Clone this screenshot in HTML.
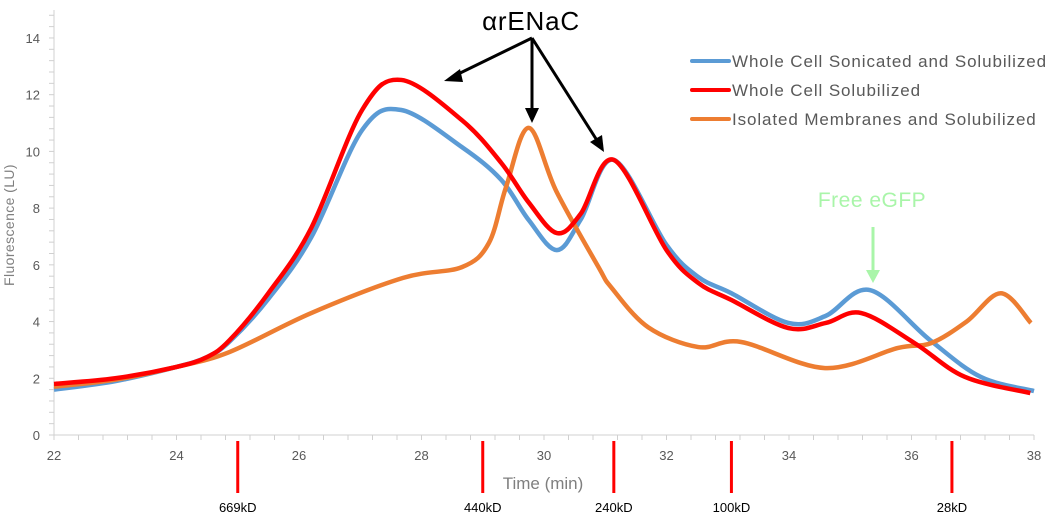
<!DOCTYPE html>
<html><head><meta charset="utf-8">
<style>
html,body{margin:0;padding:0;background:#fff;}
svg{display:block;font-family:"Liberation Sans",sans-serif;}
</style></head>
<body>
<svg id="chart" width="1050" height="514" viewBox="0 0 1050 514" xmlns="http://www.w3.org/2000/svg">
<g id="axes"></g>
<g id="series"></g>
<g id="markers"></g>
<text transform="translate(14,225) rotate(-90)" text-anchor="middle" font-size="14" fill="#7f7f7f" letter-spacing="0.4">Fluorescence (LU)</text>
<text x="543" y="489" text-anchor="middle" font-size="17" fill="#7f7f7f">Time (min)</text>
<g letter-spacing="0.9">
<g><line x1="692" y1="61" x2="729" y2="61" stroke="#5b9bd5" stroke-width="4" stroke-linecap="round"/><text x="732" y="67" font-size="17" fill="#595959">Whole Cell Sonicated and Solubilized</text></g>
<g><line x1="692" y1="90" x2="729" y2="90" stroke="#ff0000" stroke-width="4" stroke-linecap="round"/><text x="732" y="96" font-size="17" fill="#595959">Whole Cell Solubilized</text></g>
<g><line x1="692" y1="119" x2="729" y2="119" stroke="#ed7d31" stroke-width="4" stroke-linecap="round"/><text x="732" y="125" font-size="17" fill="#595959">Isolated Membranes and Solubilized</text></g>
</g>
<g>
<text x="531" y="30" text-anchor="middle" font-size="26" fill="#000" letter-spacing="0.8">αrENaC</text>
<g stroke="#000" stroke-width="3" fill="none">
<line x1="532" y1="38" x2="452" y2="77"/><line x1="532" y1="38" x2="532" y2="112"/><line x1="532" y1="38" x2="598" y2="142"/>
</g>
<polygon points="444,81 460,69 463,82" fill="#000"/>
<polygon points="532,123 525,108 539,108" fill="#000"/>
<polygon points="604,152 590,142 602,135" fill="#000"/>
</g>
<g>
<text x="872" y="207" text-anchor="middle" font-size="21" fill="#a9f5a9" letter-spacing="0.5">Free eGFP</text>
<line x1="873" y1="227" x2="873" y2="274" stroke="#a9f5a9" stroke-width="3"/>
<polygon points="873,283 866,270 880,270" fill="#a9f5a9"/>
</g>
</svg>
<script>
const xTicks=[22,24,26,28,30,32,34,36,38];
const yTicks=[0,2,4,6,8,10,12,14];
const sonX=[22,23,24,24.5,24.87,25.5,26.2,27.03,27.67,28.66,29.3,29.75,30.21,30.6,31.14,32.0,32.52,33.06,33.99,34.6,35.32,36.3,37.13,38];
const sonY=[1.6,1.9,2.4,2.75,3.3,4.8,6.97,10.75,11.46,10.15,9.0,7.58,6.52,7.6,9.7,6.7,5.57,5.0,3.95,4.2,5.11,3.35,2.05,1.55];
const solX=[22,23,24,24.5,24.87,25.5,26.2,27.03,27.67,28.66,29.3,29.75,30.21,30.6,31.14,32.0,32.52,33.06,33.99,34.6,35.18,36.05,36.87,37.94];
const solY=[1.8,2.0,2.4,2.75,3.35,5.0,7.3,11.46,12.52,11.1,9.6,8.2,7.12,7.8,9.7,6.52,5.36,4.76,3.77,3.95,4.3,3.24,2.05,1.48];
const memX=[22,23,24,24.87,26.2,27.7,28.66,29.1,29.38,29.75,30.2,30.89,31.1,31.7,32.52,33.22,34.59,35.78,36.32,36.9,37.46,37.95];
const memY=[1.7,1.95,2.4,2.93,4.3,5.54,5.92,6.77,8.74,10.83,8.6,5.92,5.2,3.8,3.1,3.28,2.36,3.07,3.24,4.0,5.0,3.95];
const markerX=[25,29,31.14,33.06,36.66];
const markerLabels=["669kD","440kD","240kD","100kD","28kD"];

const NS="http://www.w3.org/2000/svg";
const X0=54,X1=1034,Y0=435,YS=28.36;
function sx(v){return X0+(v-22)*(X1-X0)/16;}
function sy(v){return Y0-v*YS;}
function mk(tag,attrs,parent){const e=document.createElementNS(NS,tag);for(const k in attrs)e.setAttribute(k,attrs[k]);parent.appendChild(e);return e;}
const axes=document.getElementById('axes');
let yl=mk('line',{x1:X0,y1:Y0,x2:X0,y2:10,stroke:'#d0d0d0','stroke-width':1},axes);


let xl=mk('line',{x1:X0,y1:Y0,x2:X1,y2:Y0,stroke:'#d0d0d0','stroke-width':1},axes);


for(let v=0;v<=15.01;v+=0.4){mk('line',{x1:X0-5,y1:sy(v),x2:X0,y2:sy(v),stroke:'#d0d0d0'},axes);}
for(let v=22;v<=38.01;v+=0.4){mk('line',{x1:sx(v),y1:Y0,x2:sx(v),y2:Y0+5,stroke:'#d0d0d0'},axes);}
yTicks.forEach(v=>{
  const t=mk('text',{x:X0-14,y:sy(v)+5,'text-anchor':'end','font-size':13,fill:'#595959'},axes);
  t.textContent=v;
  
  
});
xTicks.forEach(v=>{
  const t=mk('text',{x:sx(v),y:460,'text-anchor':'middle','font-size':13,fill:'#595959'},axes);
  t.textContent=v;
  
  
});
function pathFor(xs,ys){
  const p=xs.map((x,i)=>[sx(x),sy(ys[i])]);
  let d='M'+p[0][0]+','+p[0][1];
  for(let i=0;i<p.length-1;i++){
    const p0=p[i-1]||p[i],p1=p[i],p2=p[i+1],p3=p[i+2]||p2;
    const c1=[p1[0]+(p2[0]-p0[0])/6,p1[1]+(p2[1]-p0[1])/6];
    const c2=[p2[0]-(p3[0]-p1[0])/6,p2[1]-(p3[1]-p1[1])/6];
    d+=' C'+c1+' '+c2+' '+p2;
  }
  return d;
}
const series=document.getElementById('series');
let s1=mk('path',{d:pathFor(sonX,sonY),fill:'none',stroke:'#5b9bd5','stroke-width':4.5,'stroke-linejoin':'round'},series);


let s3=mk('path',{d:pathFor(memX,memY),fill:'none',stroke:'#ed7d31','stroke-width':4.5,'stroke-linejoin':'round'},series);


let s2=mk('path',{d:pathFor(solX,solY),fill:'none',stroke:'#ff0000','stroke-width':4.5,'stroke-linejoin':'round'},series);


const markers=document.getElementById('markers');
markerX.forEach((v,i)=>{
  const l=mk('line',{x1:sx(v),y1:441,x2:sx(v),y2:493,stroke:'#ff0000','stroke-width':3},markers);
  
  
  const t=mk('text',{x:sx(v),y:512,'text-anchor':'middle','font-size':13,fill:'#000'},markers);
  t.textContent=markerLabels[i];
  
  
});
</script>
</body></html>
